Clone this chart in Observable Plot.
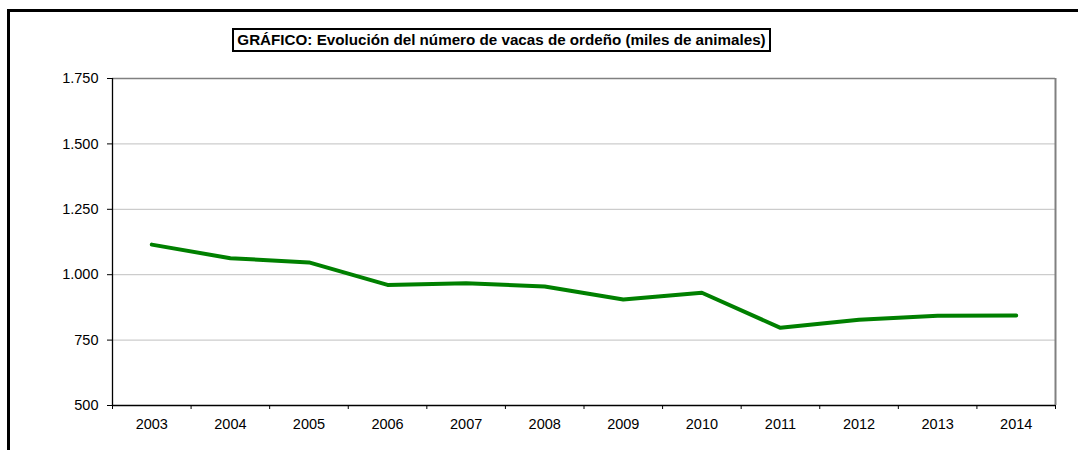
<!DOCTYPE html>
<html><head><meta charset="utf-8">
<script src="https://cdn.jsdelivr.net/npm/d3@7"></script>
<script src="https://cdn.jsdelivr.net/npm/@observablehq/plot@0.6"></script>
<style>
body{margin:0;background:#fff;}
#wrap{position:relative;width:1078px;height:450px;overflow:hidden;font-family:"Liberation Sans",Arial,sans-serif;}
#chart{position:absolute;left:0;top:0;}
#frame{position:absolute;left:7px;top:9px;width:1100px;height:500px;border:3px solid #000;box-sizing:border-box;}
#title{position:absolute;left:232px;top:28px;height:24px;width:539px;border:2px solid #000;box-sizing:border-box;font-weight:bold;font-size:15.2px;line-height:20px;text-align:center;background:#fff;white-space:nowrap;}
</style></head>
<body>
<div id="wrap">
  <div id="chart"></div>
  <div id="frame"></div>
  <div id="title">GRÁFICO: Evolución del número de vacas de ordeño (miles de animales)</div>
</div>
<script>
const years = [2003, 2004, 2005, 2006, 2007, 2008, 2009, 2010, 2011, 2012, 2013, 2014];
const vacas = [1115, 1063, 1047, 961, 967, 955, 905, 931, 797, 828, 843, 844];
const yTicks = [500, 750, 1000, 1250, 1500, 1750];
const boundaries = years.map(y => y - 0.5).concat([years[years.length - 1] + 0.5]);

const fmt = d3.formatLocale({decimal: ",", thousands: ".", grouping: [3], currency: ["", "€"]}).format(",");
const data = years.map((y, i) => ({year: y, value: vacas[i]}));

const plot = Plot.plot({
  width: 1078, height: 450,
  marginLeft: 112, marginRight: 23, marginTop: 78, marginBottom: 45,
  style: {fontFamily: "'Liberation Sans', Arial, sans-serif", fontSize: "14.5px", color: "#000", background: "transparent"},
  x: {domain: [boundaries[0], boundaries[boundaries.length - 1]]},
  y: {domain: [yTicks[0], yTicks[yTicks.length - 1]]},
  marks: [
    Plot.ruleY(yTicks.slice(1, -1), {stroke: "#c0c0c0"}),
    Plot.ruleY([yTicks[yTicks.length - 1]], {stroke: "#808080", strokeWidth: 1.5}),
    Plot.ruleX([boundaries[boundaries.length - 1]], {stroke: "#808080", strokeWidth: 2}),
    Plot.ruleX([boundaries[0]], {stroke: "#000", strokeWidth: 1.3}),
    Plot.ruleY([yTicks[0]], {stroke: "#000", strokeWidth: 1.3}),
    Plot.axisY(yTicks, {tickFormat: fmt, tickSize: 5, tickPadding: 9, label: null}),
    Plot.axisX(years, {tickSize: 0, tickPadding: 13, tickFormat: d => String(d), label: null}),
    Plot.axisX(boundaries, {tickSize: 4, tickFormat: () => "", label: null}),
    Plot.line(data, {x: "year", y: "value", stroke: "#008000", strokeWidth: 4})
  ]
});
document.getElementById("chart").appendChild(plot);
</script>
</body></html>
